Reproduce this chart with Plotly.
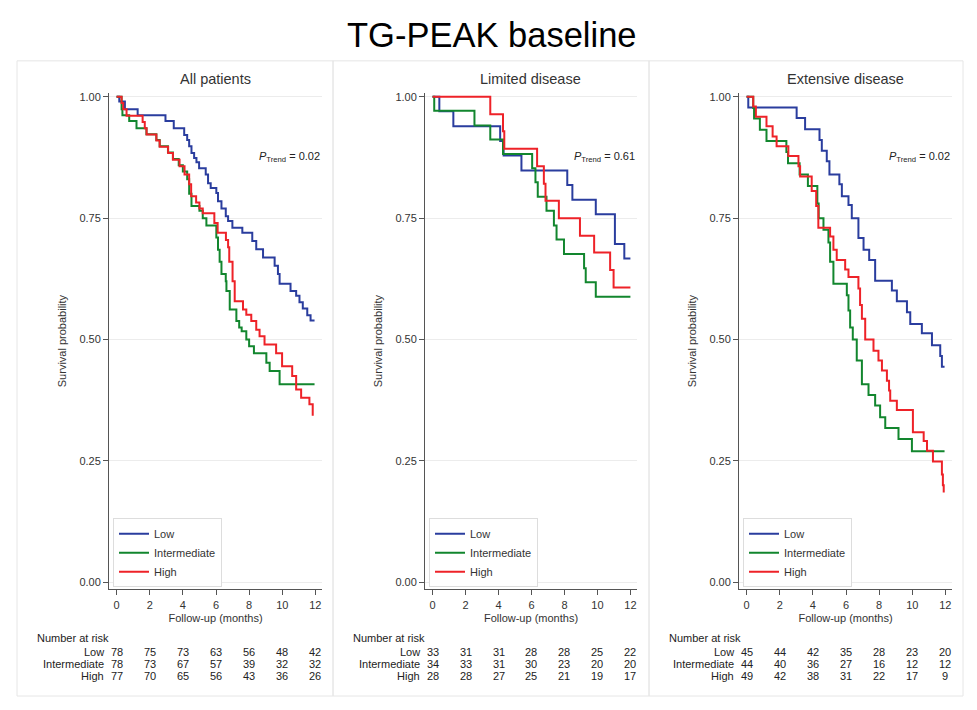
import plotly.graph_objects as go

# ---------------- data ----------------
main_title = "TG-PEAK baseline"
panel_titles = ["All patients", "Limited disease", "Extensive disease"]
group_names = ["Low", "Intermediate", "High"]
group_colors = ["#2a3d9e", "#12862e", "#ee2228"]
p_trend_values = ["0.02", "0.61", "0.02"]
x_tick_values = [0, 2, 4, 6, 8, 10, 12]
y_tick_values = [0.0, 0.25, 0.5, 0.75, 1.0]
risk_times = [0, 2, 4, 6, 8, 10, 12]

# All patients
all_low_t = [0.16, 0.5, 1.27, 2.95, 3.45, 4.08, 4.26, 4.38, 4.52, 4.68, 4.82, 4.98, 5.38, 5.52, 5.68,
             6.02, 6.12, 6.33, 6.59, 6.73, 6.99, 7.59, 8.19, 8.43, 8.84, 9.54, 9.74, 9.84, 10.5, 10.84,
             11.04, 11.24, 11.51, 11.71]
all_low_s = [0.99, 0.974, 0.962, 0.95, 0.935, 0.921, 0.911, 0.898, 0.884, 0.874, 0.865, 0.853, 0.84,
             0.822, 0.812, 0.802, 0.785, 0.77, 0.754, 0.744, 0.73, 0.72, 0.703, 0.686, 0.669, 0.652,
             0.635, 0.615, 0.6, 0.59, 0.577, 0.564, 0.55, 0.539]
all_low_end = 11.95
all_int_t = [0.3, 0.35, 0.76, 1.2, 1.8, 2.4, 2.6, 3.1, 3.4, 3.75, 4.0, 4.26, 4.38, 4.52, 5.0, 5.2, 5.42,
             6.02, 6.12, 6.22, 6.33, 6.59, 6.63, 6.83, 7.23, 7.4, 7.55, 7.83, 8.0, 8.29, 9.04, 9.24, 9.84]
all_int_s = [0.974, 0.962, 0.95, 0.935, 0.923, 0.911, 0.898, 0.885, 0.872, 0.859, 0.846, 0.83, 0.80,
             0.775, 0.765, 0.75, 0.735, 0.71, 0.685, 0.66, 0.635, 0.62, 0.60, 0.562, 0.538, 0.525, 0.517,
             0.50, 0.486, 0.472, 0.452, 0.435, 0.408]
all_int_end = 11.95
all_high_t = [0.3, 0.4, 0.6, 1.57, 1.7, 1.81, 2.4, 2.6, 3.11, 3.4, 3.8, 4.1, 4.38, 4.5, 4.8, 5.0, 5.2,
              5.9, 6.1, 6.6, 6.73, 6.8, 7.0, 7.13, 7.63, 7.83, 8.13, 8.43, 8.63, 8.93, 9.63, 9.99, 10.6,
              10.84, 11.14, 11.64, 11.84]
all_high_s = [0.987, 0.974, 0.961, 0.948, 0.935, 0.922, 0.91, 0.897, 0.884, 0.87, 0.857, 0.84, 0.82,
              0.795, 0.782, 0.77, 0.76, 0.74, 0.72, 0.705, 0.69, 0.66, 0.62, 0.579, 0.562, 0.551, 0.538,
              0.52, 0.507, 0.49, 0.472, 0.445, 0.425, 0.397, 0.38, 0.367, 0.343]
all_high_end = 11.84

# Limited disease
lim_low_t = [0.41, 1.26, 4.1, 4.31, 5.39, 8.17, 8.48, 9.9, 11.06, 11.63]
lim_low_s = [0.97, 0.939, 0.909, 0.879, 0.848, 0.818, 0.788, 0.758, 0.697, 0.667]
lim_low_end = 12.0
lim_int_t = [0.1, 2.54, 3.5, 4.27, 6.04, 6.24, 6.38, 6.91, 7.36, 7.52, 7.97, 9.19, 9.29, 9.9]
lim_int_s = [0.971, 0.941, 0.912, 0.882, 0.853, 0.824, 0.794, 0.765, 0.735, 0.706, 0.676, 0.647, 0.618, 0.588]
lim_int_end = 12.0
lim_high_t = [3.5, 4.27, 4.35, 6.34, 6.75, 6.85, 7.66, 8.94, 9.8, 10.77, 10.98]
lim_high_s = [0.964, 0.929, 0.893, 0.857, 0.821, 0.786, 0.75, 0.714, 0.679, 0.643, 0.607]
lim_high_end = 12.0

# Extensive disease
ext_low_t = [0.1, 3.02, 3.53, 4.4, 4.54, 4.84, 5.0, 5.6, 5.75, 6.15, 6.35, 6.75, 7.06, 7.4, 7.76, 8.77,
             9.07, 9.68, 9.88, 10.58, 11.19, 11.69, 11.79]
ext_low_s = [0.978, 0.956, 0.933, 0.911, 0.889, 0.867, 0.84, 0.82, 0.795, 0.777, 0.75, 0.709, 0.685,
             0.664, 0.621, 0.601, 0.579, 0.556, 0.532, 0.513, 0.488, 0.466, 0.444]
ext_low_end = 11.95
ext_int_t = [0.4, 0.45, 0.8, 1.2, 2.4, 2.5, 3.2, 3.7, 4.27, 4.35, 4.64, 4.94, 5.04, 5.24, 6.05, 6.15,
             6.25, 6.41, 6.65, 6.96, 7.36, 7.76, 8.06, 8.37, 9.17, 9.98]
ext_int_s = [0.977, 0.955, 0.932, 0.909, 0.886, 0.863, 0.84, 0.816, 0.78, 0.75, 0.726, 0.70, 0.66, 0.615,
             0.591, 0.56, 0.525, 0.50, 0.457, 0.408, 0.386, 0.364, 0.34, 0.318, 0.295, 0.27]
ext_int_end = 11.95
ext_high_t = [0.4, 0.56, 1.2, 1.57, 1.81, 2.52, 3.13, 3.23, 3.93, 4.2, 4.33, 5.04, 5.24, 5.44, 5.95, 6.15,
              6.75, 6.85, 6.96, 7.16, 7.66, 7.96, 8.17, 8.47, 8.6, 8.67, 9.07, 10.04, 10.69, 10.89, 11.25,
              11.79, 11.85, 11.9]
ext_high_s = [0.98, 0.959, 0.939, 0.918, 0.898, 0.878, 0.857, 0.836, 0.806, 0.775, 0.73, 0.712, 0.685,
              0.664, 0.644, 0.629, 0.605, 0.571, 0.543, 0.50, 0.477, 0.457, 0.436, 0.415, 0.395, 0.374,
              0.355, 0.309, 0.291, 0.271, 0.249, 0.222, 0.2, 0.185]
ext_high_end = 11.9

# Number at risk
all_risk_low = [78, 75, 73, 63, 56, 48, 42]
all_risk_int = [78, 73, 67, 57, 39, 32, 32]
all_risk_high = [77, 70, 65, 56, 43, 36, 26]
lim_risk_low = [33, 31, 31, 28, 28, 25, 22]
lim_risk_int = [34, 33, 31, 30, 23, 20, 20]
lim_risk_high = [28, 28, 27, 25, 21, 19, 17]
ext_risk_low = [45, 44, 42, 35, 28, 23, 20]
ext_risk_int = [44, 40, 36, 27, 16, 12, 12]
ext_risk_high = [49, 42, 38, 31, 22, 17, 9]

panels = [
    [(all_low_t, all_low_s, all_low_end), (all_int_t, all_int_s, all_int_end), (all_high_t, all_high_s, all_high_end)],
    [(lim_low_t, lim_low_s, lim_low_end), (lim_int_t, lim_int_s, lim_int_end), (lim_high_t, lim_high_s, lim_high_end)],
    [(ext_low_t, ext_low_s, ext_low_end), (ext_int_t, ext_int_s, ext_int_end), (ext_high_t, ext_high_s, ext_high_end)],
]
risk_tables = [
    [all_risk_low, all_risk_int, all_risk_high],
    [lim_risk_low, lim_risk_int, lim_risk_high],
    [ext_risk_low, ext_risk_int, ext_risk_high],
]

# ---------------- layout geometry (reference pixel positions) ----------------
OFF = 8  # page body margin
W, H = 969, 702
FONT = "Arial, Liberation Sans, sans-serif"
x_domains_px = [(109, 322), (425, 637), (739, 952)]
y_domain_px = (91, 589)
panel_boxes_px = [(17, 333), (333, 649), (649, 963)]
x_range = [-0.46, 12.4]
y_range = [-0.0144, 1.0082]


def px_x(p):
    return (p - OFF) / W


def px_y(p):
    return 1 - (p - OFF) / H


fig = go.Figure()
layout = dict(
    width=W, height=H,
    margin=dict(l=0, r=0, t=0, b=0),
    paper_bgcolor="white", plot_bgcolor="white",
    font=dict(family=FONT, size=11, color="#333333"),
    showlegend=True,
)
annotations = []
shapes = []

for i in range(3):
    n = i + 1
    xa = "x" if n == 1 else f"x{n}"
    ya = "y" if n == 1 else f"y{n}"
    lg = "legend" if n == 1 else f"legend{n}"
    d0, d1 = x_domains_px[i]
    dom = [px_x(d0), px_x(d1)]

    # panel frame
    b0, b1 = panel_boxes_px[i]
    shapes.append(dict(type="rect", xref="paper", yref="paper", x0=px_x(b0), x1=px_x(b1),
                       y0=px_y(696), y1=px_y(59), line=dict(color="#e6e6e6", width=1), layer="below"))

    for g in range(3):
        t, s, end = panels[i][g]
        xs = [0] + list(t) + [end]
        ys = [1.0] + list(s) + [s[-1]]
        fig.add_trace(go.Scatter(
            x=xs, y=ys, mode="lines", line=dict(color=group_colors[g], width=2, shape="hv"),
            name=group_names[g], xaxis=xa, yaxis=ya, legend=lg, showlegend=True,
        ))

    layout["xaxis" if n == 1 else f"xaxis{n}"] = dict(
        domain=dom, anchor=ya, range=x_range, tickvals=x_tick_values,
        ticks="outside", ticklen=5, tickcolor="#555555", showline=True, linecolor="#555555",
        linewidth=1, showgrid=False, zeroline=False,
        tickfont=dict(size=11, color="#333333"),
        title=dict(text="Follow-up (months)", font=dict(size=11, color="#333333"), standoff=4),
    )
    layout["yaxis" if n == 1 else f"yaxis{n}"] = dict(
        domain=[px_y(y_domain_px[1]), px_y(y_domain_px[0])], anchor=xa, range=y_range,
        tickvals=y_tick_values, tickformat=".2f",
        ticks="outside", ticklen=5, tickcolor="#555555", showline=True, linecolor="#555555",
        linewidth=1, showgrid=True, gridcolor="#ececec", gridwidth=1, zeroline=False,
        tickfont=dict(size=11, color="#333333"),
        title=dict(text="Survival probability", font=dict(size=11, color="#333333"), standoff=10),
    )
    layout[lg] = dict(
        x=px_x(d0 + 4), y=px_y(587), xanchor="left", yanchor="bottom",
        bgcolor="white", bordercolor="#dddddd", borderwidth=1,
        font=dict(size=11, color="#333333"), tracegroupgap=0,
    )

    # panel title
    annotations.append(dict(text=panel_titles[i], xref="paper", yref="paper",
                            x=(dom[0] + dom[1]) / 2, y=px_y(77), xanchor="center", yanchor="middle",
                            showarrow=False, font=dict(size=14.5, color="#333333")))
    # P trend
    annotations.append(dict(
        text=f"<i>P</i><sub>Trend</sub> = {p_trend_values[i]}",
        xref=f"{xa} domain", yref=ya, x=1.0, y=0.875, xanchor="right", yanchor="middle",
        showarrow=False, font=dict(size=11, color="#222222")))

    # number at risk
    annotations.append(dict(text="Number at risk", xref="paper", yref="paper",
                            x=px_x(b0 + 18), y=px_y(638), xanchor="left", yanchor="middle",
                            showarrow=False, font=dict(size=11, color="#222222")))
    row_y = [652, 664, 676]
    for g in range(3):
        annotations.append(dict(text=group_names[g], xref="paper", yref="paper",
                                x=dom[0] - 0.015 * (dom[1] - dom[0]), y=px_y(row_y[g]),
                                xanchor="right", yanchor="middle", showarrow=False,
                                font=dict(size=11, color="#222222")))
        for k, tm in enumerate(risk_times):
            annotations.append(dict(text=str(risk_tables[i][g][k]), xref=xa, yref="paper",
                                    x=tm, y=px_y(row_y[g]), xanchor="center", yanchor="middle",
                                    showarrow=False, font=dict(size=11, color="#222222")))

annotations.append(dict(text=main_title, xref="paper", yref="paper", x=px_x(492), y=px_y(33),
                        xanchor="center", yanchor="middle", showarrow=False,
                        font=dict(size=34.5, color="#000000")))

layout["annotations"] = annotations
layout["shapes"] = shapes
fig.update_layout(**layout)
fig.write_html("out.html")
